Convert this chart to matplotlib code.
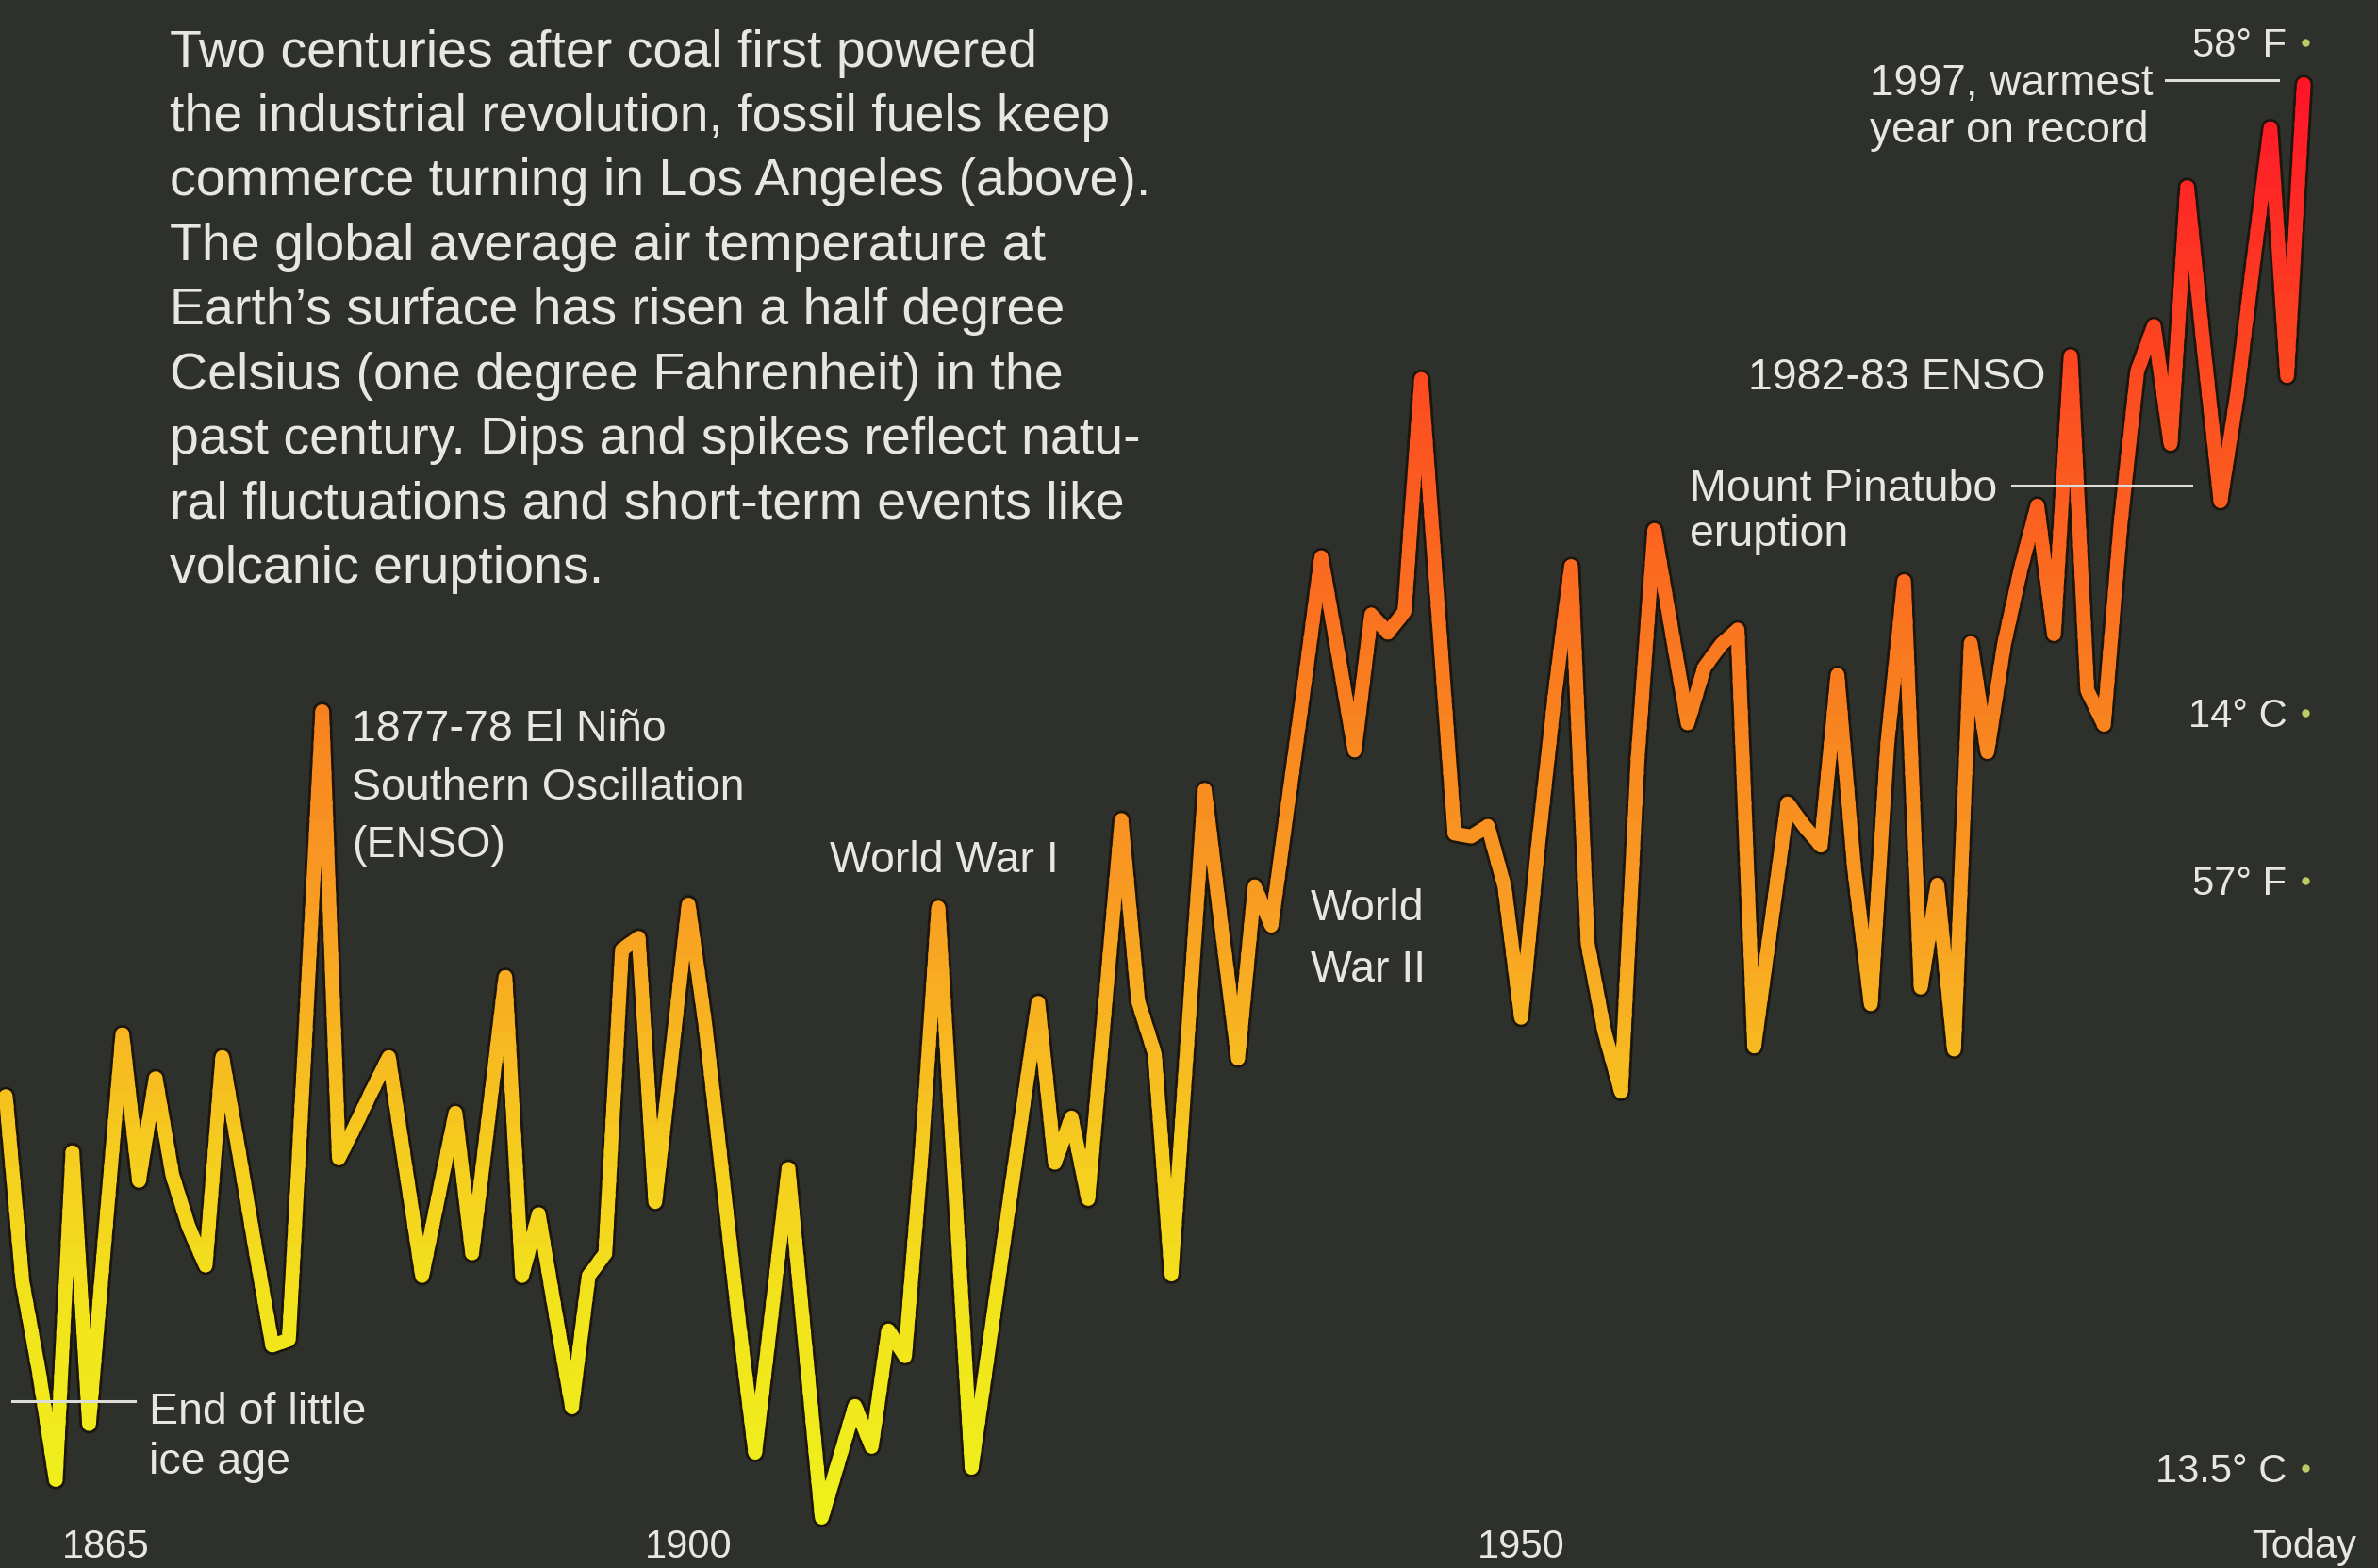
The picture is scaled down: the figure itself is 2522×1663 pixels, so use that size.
#!/usr/bin/env python
import numpy as np
import matplotlib as mpl
mpl.use('Agg')
import matplotlib.pyplot as plt
import matplotlib.transforms as mtransforms
from matplotlib.colors import LinearSegmentedColormap
from matplotlib.patches import Rectangle
from matplotlib.lines import Line2D

plt.rcParams['font.family'] = ['Liberation Sans', 'DejaVu Sans']

# global average surface air temperature, deg C, one value per year
years = np.arange(1859, 1998)
temp_c = np.array([
    13.746, 13.623, 13.563, 13.492, 13.709, 13.529, 13.659, 13.787, 13.690, 13.758,  # 1859-1868
    13.694, 13.659, 13.634, 13.772, 13.709, 13.644, 13.581, 13.585, 13.789, 14.001,  # 1869-1878
    13.705, 13.727, 13.750, 13.772, 13.699, 13.627, 13.681, 13.735, 13.642, 13.733,  # 1879-1888
    13.825, 13.627, 13.668, 13.603, 13.540, 13.627, 13.642, 13.843, 13.851, 13.676,  # 1889-1898
    13.774, 13.873, 13.794, 13.697, 13.599, 13.510, 13.603, 13.698, 13.582, 13.467,  # 1899-1908
    13.504, 13.541, 13.514, 13.591, 13.574, 13.709, 13.871, 13.686, 13.500, 13.577,  # 1909-1918
    13.655, 13.732, 13.808, 13.702, 13.732, 13.678, 13.804, 13.929, 13.809, 13.774,  # 1919-1928
    13.628, 13.789, 13.949, 13.859, 13.771, 13.885, 13.859, 13.940, 14.020, 14.103,  # 1929-1938
    14.040, 13.975, 14.065, 14.053, 14.067, 14.221, 14.070, 13.920, 13.918, 13.925,  # 1939-1948
    13.885, 13.798, 13.910, 14.010, 14.097, 13.847, 13.789, 13.749, 13.970, 14.121,  # 1949-1958
    14.057, 13.993, 14.030, 14.045, 14.055, 13.779, 13.859, 13.940, 13.925, 13.912,  # 1959-1968
    14.025, 13.897, 13.807, 13.980, 14.087, 13.818, 13.886, 13.777, 14.046, 13.974,  # 1969-1978
    14.045, 14.095, 14.137, 14.052, 14.236, 14.015, 13.992, 14.125, 14.226, 14.256,  # 1979-1988
    14.178, 14.348, 14.241, 14.140, 14.211, 14.301, 14.387, 14.223, 14.416,          # 1989-1997
])

scale_pos = [14.444, 14.0, 13.889, 13.5]
scale_labels = ['58° F', '14° C', '57° F', '13.5° C']

year_ticks = [1865, 1900, 1950, 1997]
year_labels = ['1865', '1900', '1950', 'Today']

blurb = [
    'Two centuries after coal first powered',
    'the industrial revolution, fossil fuels keep',
    'commerce turning in Los Angeles (above).',
    'The global average air temperature at',
    'Earth\u2019s surface has risen a half degree',
    'Celsius (one degree Fahrenheit) in the',
    'past century. Dips and spikes reflect natu-',
    'ral fluctuations and short-term events like',
    'volcanic eruptions.',
]

bg = '#2d302b'
txt = '#e6e6e2'

fig = plt.figure(figsize=(25.22, 16.63), dpi=100, facecolor=bg)
ax = fig.add_axes([0, 0, 1, 1])
ax.set_facecolor(bg)
ax.set_xlim(1858.65, 2001.46)
ax.set_ylim(13.4337, 14.4719)
ax.axis('off')

# warm colours going up
cmap = LinearSegmentedColormap.from_list('heat', [
    (0.00, '#eef21c'), (0.16, '#f2e41c'), (0.25, '#f5d01e'), (0.34, '#f7b820'),
    (0.44, '#f89c22'), (0.57, '#f8821f'), (0.69, '#fb6420'), (0.82, '#fc4420'),
    (1.00, '#ff1428')])
t_lo, t_hi = 13.45, 14.42

# dark rim under the line
ax.plot(years, temp_c, color='#1a1208', lw=14.5, alpha=0.85,
        solid_joinstyle='round', solid_capstyle='round', zorder=2)

# same line drawn in thin horizontal bands, each clipped, to get a colour by height
edges = np.linspace(13.40, 14.50, 111)
for lo, hi in zip(edges[:-1], edges[1:]):
    c = cmap(np.clip(((lo + hi) / 2 - t_lo) / (t_hi - t_lo), 0, 1))
    ln, = ax.plot(years, temp_c, color=c, lw=10.5,
                  solid_joinstyle='round', solid_capstyle='round', zorder=3)
    clip = Rectangle((1850, lo - 0.0015), 160, hi - lo + 0.003, transform=ax.transData)
    ln.set_clip_path(clip)

# helpers for placing text in the layout (reference pixel grid 1568 x 1034)
def fx(x):
    return x / 1568.0

def fy(y):
    return 1 - y / 1034.0

for i, line in enumerate(blurb):
    fig.text(fx(112), fy(44 + 42.5 * i), line, color=txt, fontsize=40,
             ha='left', va='baseline')

def note(x, ys, lines, size=33.5, ha='left'):
    for y, s in zip(ys, lines):
        fig.text(fx(x), fy(y), s, color=txt, fontsize=size, ha=ha, va='baseline')

def leader(x0, x1, y):
    fig.add_artist(Line2D([fx(x0), fx(x1)], [fy(y), fy(y)], color='#dcdcd8',
                          lw=2.2, transform=fig.transFigure, zorder=5))

note(232, [489, 527, 565], ['1877-78 El Ni\u00f1o', 'Southern Oscillation', '(ENSO)'])
note(547, [575], ['World War I'])
note(864, [607, 647], ['World', 'War II'])
note(98, [939, 972], ['End of little', 'ice age'])
leader(8, 89, 924)
note(1349, [257], ['1982-83 ENSO'], ha='right')
note(1114, [330, 360], ['Mount Pinatubo', 'eruption'])
leader(1327, 1445, 320)
note(1233, [63, 94], ['1997, warmest', 'year on record'], size=33)
leader(1428, 1502, 53)

# temperature scale on the right
yt = mtransforms.blended_transform_factory(ax.transAxes, ax.transData)
for v, s in zip(scale_pos, scale_labels):
    ax.text(0.9617, v, s, transform=yt, color=txt, fontsize=30,
            ha='right', va='center_baseline')
ax.plot([0.9694] * len(scale_pos), scale_pos, 'o', transform=yt,
        color='#bccb64', ms=6, mec='none')

# year labels along the bottom
xt = mtransforms.blended_transform_factory(ax.transData, ax.transAxes)
for v, s in zip(year_ticks, year_labels):
    ax.text(v, 1 - 1027 / 1034.0, s, transform=xt, color=txt, fontsize=30,
            ha='center', va='baseline')

fig.savefig('out.png', dpi=100, facecolor=bg)
